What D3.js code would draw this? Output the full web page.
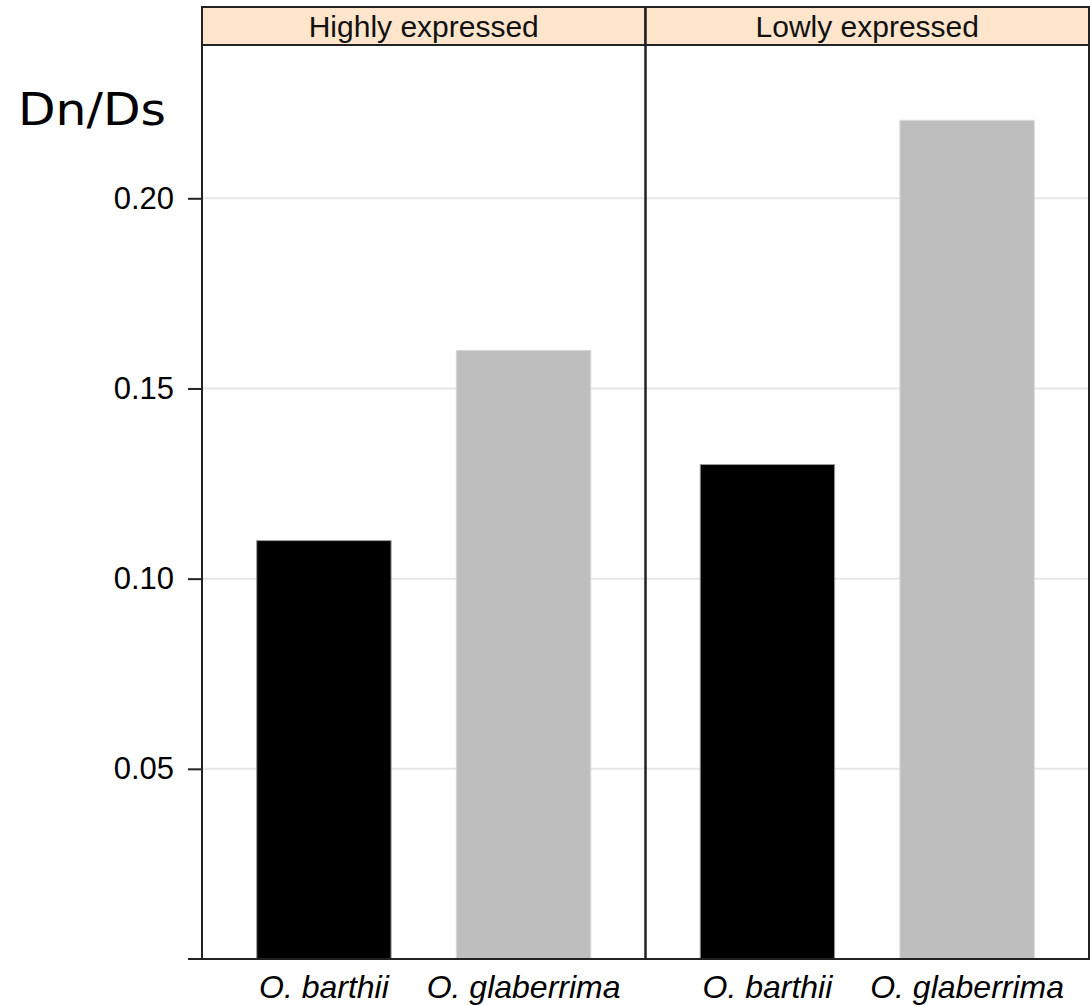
<!DOCTYPE html>
<html>
<head>
<meta charset="utf-8">
<script src="https://cdn.jsdelivr.net/npm/d3@7"></script>
<style>
  body { margin: 0; background: #fff; }
  svg { display: block; font-family: "Liberation Sans", Arial, sans-serif; }
</style>
</head>
<body>
<script>
// data
const panels = ['Highly expressed', 'Lowly expressed']
const species = ['O. barthii', 'O. glaberrima']
const highlyValues = [0.110, 0.160]
const lowlyValues = [0.130, 0.2205]
const yTicks = [0.05, 0.10, 0.15, 0.20]
const barColors = ['#000000', '#bebebe']

const W = 1090, H = 1005
const margin = { top: 7, right: 1, bottom: 46, left: 202 }
const stripH = 38

const width = W - margin.left - margin.right
const height = H - margin.top - margin.bottom

const rows = []
panels.forEach((p, i) => {
    const vals = i === 0 ? highlyValues : lowlyValues
    species.forEach((s, j) => rows.push({ panel: p, name: s, value: vals[j], idx: j }))
})

const svg = d3.select('body').append('svg')
    .attr('width', W)
    .attr('height', H)

const g = svg.append('g')
    .attr('transform', `translate(${margin.left}, ${margin.top})`)

const panelScale = d3.scaleBand()
    .domain(panels)
    .range([0, width])
    .padding(0)

const xScale = d3.scaleBand()
    .domain(species)
    .range([0, panelScale.bandwidth()])
    .paddingInner(0.327)
    .paddingOuter(0.274)

const yScale = d3.scaleLinear()
    .domain([0, 0.2403])
    .range([height, stripH])

// grid lines behind the bars
g.append('g')
    .selectAll('line')
    .data(yTicks)
    .join('line')
    .attr('x1', 0)
    .attr('x2', width)
    .attr('y1', d => yScale(d))
    .attr('y2', d => yScale(d))
    .attr('stroke', '#e6e6e6')
    .attr('stroke-width', 2)

// bars
g.append('g')
    .selectAll('rect')
    .data(rows)
    .join('rect')
    .attr('x', d => panelScale(d.panel) + xScale(d.name))
    .attr('width', xScale.bandwidth())
    .attr('y', d => yScale(d.value))
    .attr('height', d => yScale(0) - yScale(d.value))
    .attr('fill', d => barColors[d.idx])
    .attr('stroke', d => d.idx === 0 ? '#9a9a9a' : '#d8d8d8')
    .attr('stroke-width', 1)

// strips
const strips = g.append('g')
    .selectAll('g')
    .data(panels)
    .join('g')
    .attr('transform', d => `translate(${panelScale(d)},0)`)

strips.append('rect')
    .attr('width', panelScale.bandwidth())
    .attr('height', stripH)
    .attr('fill', '#ffe5cc')
    .attr('stroke', '#222')
    .attr('stroke-width', 2)

strips.append('text')
    .attr('x', panelScale.bandwidth() / 2)
    .attr('y', stripH / 2 + 11)
    .attr('text-anchor', 'middle')
    .attr('font-size', 30)
    .attr('fill', '#111')
    .text(d => d)

// panel borders
strips.append('rect')
    .attr('width', panelScale.bandwidth())
    .attr('height', height)
    .attr('fill', 'none')
    .attr('stroke', '#222')
    .attr('stroke-width', 2)

// y axis
const yAxis = d3.axisLeft(yScale)
    .tickValues(yTicks)
    .tickFormat(d3.format('.2f'))
    .tickSize(14)
    .tickPadding(14)

const yG = g.append('g')
    .attr('class', 'y axis')
    .call(yAxis)
yG.select('.domain').remove()
yG.selectAll('line').attr('stroke', '#222').attr('stroke-width', 2)
yG.selectAll('text')
    .attr('font-size', 31)
    .attr('font-family', '"Liberation Sans", Arial, sans-serif')
    .attr('fill', '#000')

// bottom line extended as a tick at zero
g.append('line')
    .attr('x1', -14)
    .attr('x2', width)
    .attr('y1', yScale(0))
    .attr('y2', yScale(0))
    .attr('stroke', '#222')
    .attr('stroke-width', 2)

// x labels
g.append('g')
    .selectAll('text')
    .data(rows)
    .join('text')
    .attr('x', d => panelScale(d.panel) + xScale(d.name) + xScale.bandwidth() / 2)
    .attr('y', height + 39)
    .attr('text-anchor', 'middle')
    .attr('font-size', 32)
    .attr('font-style', 'italic')
    .attr('fill', '#000')
    .text(d => d.name)

// y title
svg.append('text')
    .attr('x', 18)
    .attr('y', 125)
    .style('font-family', '"DejaVu Sans", Verdana, sans-serif')
    .attr('font-size', 45)
    .attr('textLength', 148)
    .attr('lengthAdjust', 'spacingAndGlyphs')
    .attr('fill', '#000')
    .text('Dn/Ds')
</script>
</body>
</html>
